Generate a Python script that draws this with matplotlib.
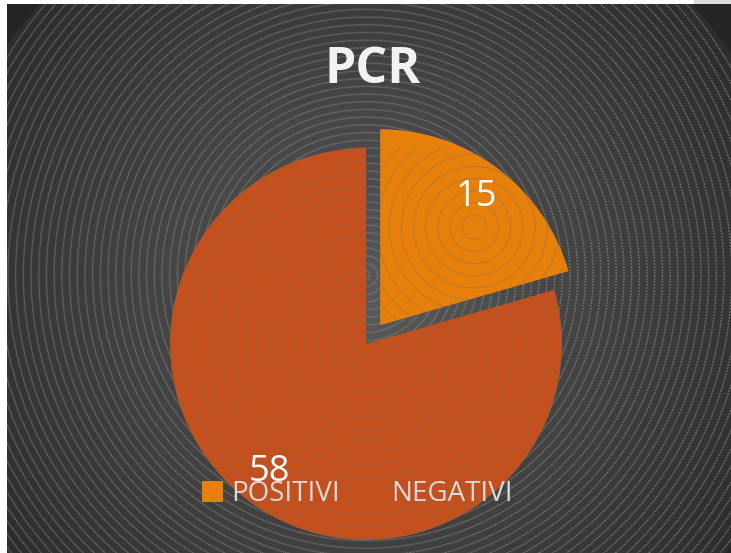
import numpy as np
import matplotlib
matplotlib.use("Agg")
import matplotlib.pyplot as plt
from matplotlib.patches import Circle

# ---- data ----
title = "PCR"
categories = ["POSITIVI", "NEGATIVI"]
values = [15, 58]
colors = ["#E6800A", "#C4501D"]

W, H = 731, 553
fig = plt.figure(figsize=(W / 100, H / 100), dpi=100)
fig.patch.set_facecolor("white")

# ---- textured background (radial gradient + dotted concentric rings), supersampled ----
S = 3
yy, xx = np.mgrid[0:H * S, 0:W * S]
xx = (xx + 0.5) / S
yy = (yy + 0.5) / S
dark = (xx >= 7) & (yy >= 4)
rg = np.hypot(xx - 366, yy - 300)
v = (0x5a - (0x5a - 0x2e) * np.clip(rg / 430, 0, 1)) / 255
inside = np.hypot(xx - 366, yy - 300) <= 440
r = np.hypot(xx - 366, yy - 275)
sp = 7.7
phase = (r / sp) % 1
ring = np.exp(-((phase - 0.5) * sp) ** 2 / (2 * 0.5 ** 2))
theta = np.arctan2(yy - 275, xx - 366)
dash = ((r * theta) % 3.0) < 2.0
val = v + (0x8c / 255 - v) * ring * dash * 0.7
val = np.where(inside, val, 0x25 / 255)
img = np.where(dark, val, 1.0)
strip = (xx >= 694) & (yy < 4)
img = np.where(strip, 0xdc / 255, img)
img = img.reshape(H, S, W, S).mean(axis=(1, 3))
rgb = np.dstack([img, img, img])

bg = fig.add_axes([0, 0, 1, 1], zorder=0)
bg.imshow(rgb, extent=(0, W, H, 0), interpolation="nearest", aspect="auto")
bg.set_axis_off()

# ---- pie ----
cx, cy, R = 366, 344, 196
ax = fig.add_axes([(cx - R) / W, (H - cy - R) / H, 2 * R / W, 2 * R / H], zorder=1)
ax.patch.set_alpha(0)
total = sum(values)
wedges, texts, autotexts = ax.pie(
    values, colors=colors, startangle=90, counterclock=False,
    explode=[0.12, 0], radius=1,
    autopct=lambda p: f"{round(p * total / 100)}", pctdistance=0.82,
    textprops=dict(color="white", fontsize=26, family="Open Sans"),
    wedgeprops=dict(linewidth=0),
)
ax.set_xlim(-1, 1)
ax.set_ylim(-1, 1)
ax.set_axis_off()
for w in wedges:
    w.set_clip_on(False)
    ext = w.get_path().get_extents()
    rcx, rcy = (ext.x0 + ext.x1) / 2, (ext.y0 + ext.y1) / 2
    for k in range(1, 30):
        c = Circle((rcx, rcy), k * 0.062, fill=False, edgecolor="#6e6e6e",
                   linewidth=0.6, alpha=0.45, zorder=w.get_zorder() + 0.1)
        ax.add_patch(c)
        c.set_clip_path(w)
for t in autotexts:
    t.set_zorder(5)

# ---- title ----
fig.text(373 / W, 1 - 70 / H, title, ha="center", va="center",
         fontsize=36, fontweight="bold", family="Open Sans", color="#F2F2F2",
         zorder=5)

# ---- legend ----
leg = fig.legend(wedges, categories, loc="center",
                 bbox_to_anchor=(357.5 / W, 1 - 494 / H),
                 bbox_transform=fig.transFigure, ncol=2, frameon=False,
                 prop=dict(family="Open Sans", size=20),
                 handlelength=0.76, handleheight=0.76, handletextpad=0.28,
                 columnspacing=0.8, borderpad=0)
for t in leg.get_texts():
    t.set_color("#D9D9D9")
leg.set_zorder(6)

fig.savefig("out.png", dpi=100)
